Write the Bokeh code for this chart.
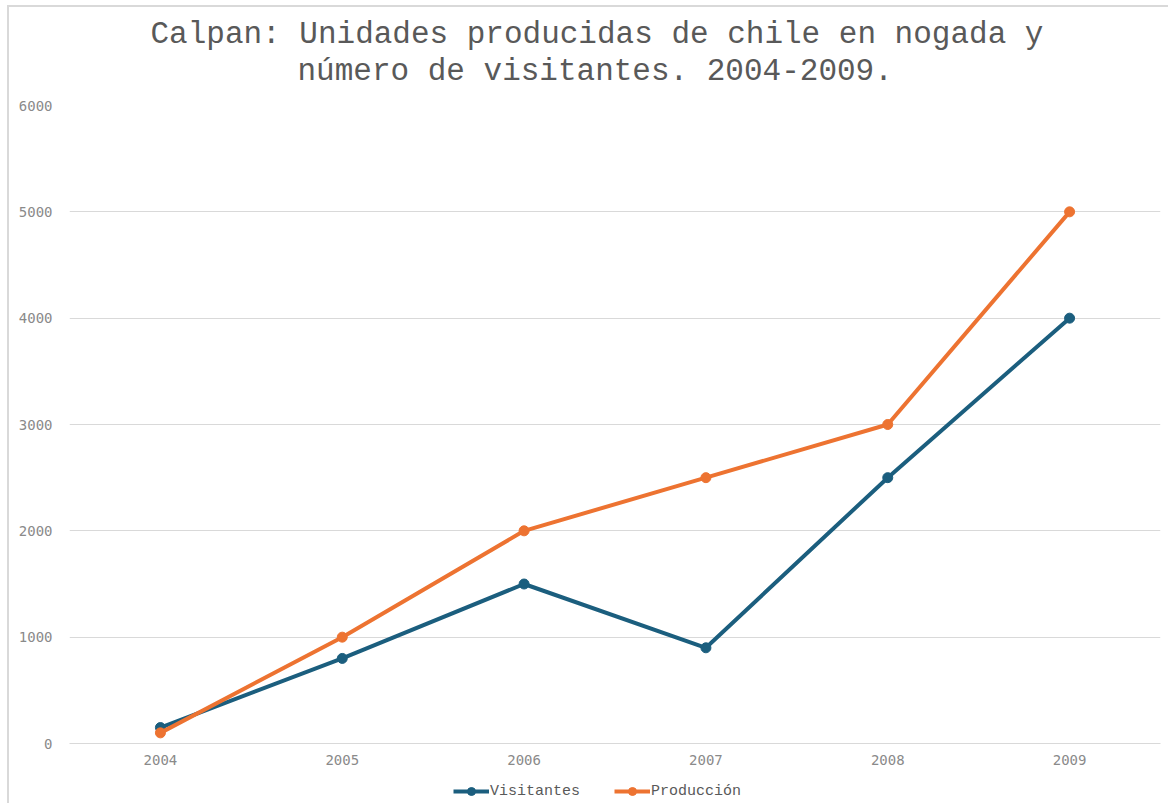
from bokeh.plotting import figure
from bokeh.layouts import column
from bokeh.models import Legend, LegendItem, Range1d, FixedTicker, Title
from bokeh.embed import file_html
from bokeh.resources import INLINE

years = ["2004", "2005", "2006", "2007", "2008", "2009"]
visitantes = [150, 800, 1500, 900, 2500, 4000]
produccion = [100, 1000, 2000, 2500, 3000, 5000]
y_ticks = [0, 1000, 2000, 3000, 4000, 5000, 6000]
series_names = ["Visitantes", "Producción"]
title_lines = ["Calpan: Unidades producidas de chile en nogada y",
               "número de visitantes. 2004-2009."]

BLUE = "#1b5e7e"
ORANGE = "#ed7331"
MONO = "Liberation Mono"

p = figure(width=1159, height=772, x_range=years, y_range=Range1d(0, 6000),
           output_backend="svg", toolbar_location=None,
           min_border_left=60, min_border_right=8, min_border_top=98,
           min_border_bottom=36)
p.outline_line_color = None
p.x_range.range_padding = 0.0

def style_title(t, off):
    t.align = "left"
    t.text_font = MONO
    t.text_font_size = "31px"
    t.text_font_style = "normal"
    t.text_color = "#595959"
    t.offset = off

p.title.text = title_lines[0]
style_title(p.title, 81)
p.title.standoff = -34
t2 = Title(text=title_lines[1])
style_title(t2, 228)
t2.standoff = 34
p.add_layout(t2, "above")

p.xgrid.grid_line_color = None
p.ygrid.grid_line_color = "#d9d9d9"
p.ygrid.grid_line_width = 1
p.yaxis.ticker = FixedTicker(ticks=y_ticks)

for ax in (p.xaxis, p.yaxis):
    ax.major_tick_line_color = None
    ax.minor_tick_line_color = None
    ax.major_label_text_font = "DejaVu Sans Mono"
    ax.major_label_text_font_size = "14px"
    ax.major_label_text_color = "#8a8a8a"
p.yaxis.axis_line_color = None
p.xaxis.axis_line_color = "#d9d9d9"
p.yaxis.major_label_standoff = 11
p.xaxis.major_label_standoff = 5

p.line(years, visitantes, line_color=BLUE, line_width=4)
p.scatter(years, visitantes, size=10, fill_color=BLUE, line_color=BLUE)
p.line(years, produccion, line_color=ORANGE, line_width=4)
p.scatter(years, produccion, size=10, fill_color=ORANGE, line_color=ORANGE)

# legend strip below the chart (its renderers sit outside the visible range)
pl = figure(width=1159, height=24, x_range=Range1d(0, 1), y_range=Range1d(0, 1),
            output_backend="svg", toolbar_location=None,
            x_axis_location=None, y_axis_location=None, min_border=0,
            min_border_left=0, min_border_right=0, min_border_top=0,
            min_border_bottom=0)
pl.outline_line_color = None
pl.grid.visible = False
items = []
for name, col in zip(series_names, [BLUE, ORANGE]):
    r1 = pl.line(x=[-5, -4], y=[-5, -5], line_color=col, line_width=4)
    r2 = pl.scatter(x=[-5], y=[-5], size=10, fill_color=col, line_color=col)
    items.append(LegendItem(label=name, renderers=[r1, r2]))
legend = Legend(items=items, orientation="horizontal", location=(384, 2),
                label_text_font=MONO, label_text_font_size="15px",
                label_text_color="#595959", border_line_color=None,
                background_fill_alpha=0, glyph_width=36, glyph_height=20,
                label_height=20, spacing=34, padding=0, margin=0,
                label_standoff=1)
pl.add_layout(legend)

layout = column(p, pl, spacing=0)
layout.styles = {"margin-left": "7px", "margin-top": "5px",
                 "border-left": "2px solid #d9d9d9",
                 "border-top": "2px solid #d9d9d9"}

open("out.html", "w").write(file_html(layout, INLINE))
